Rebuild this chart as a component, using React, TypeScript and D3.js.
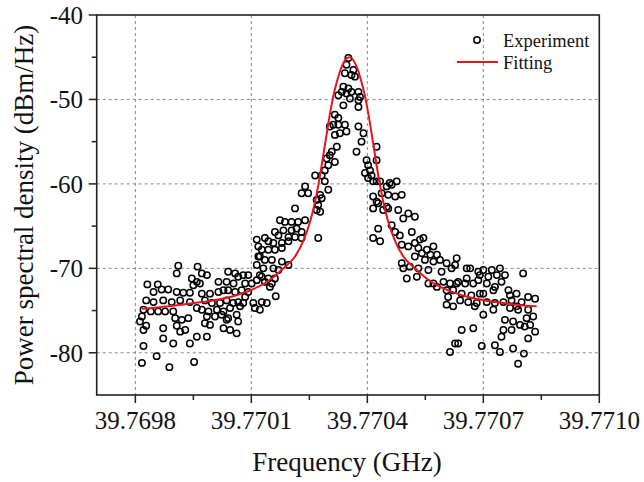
import React from "react";
import * as d3 from "d3";

const xTicks = [39.7698, 39.7701, 39.7704, 39.7707, 39.771];
const xMinorTicks = [39.76995, 39.77025, 39.77055, 39.77085];
const yTicks = [-80, -70, -60, -50, -40];
const yMinorTicks = [-75, -65, -55, -45];
const legendLabels = ["Experiment", "Fitting"];

// Experiment: [frequency (GHz), PSD (dBm/Hz)]
const experiment: [number, number][] = [
  [39.769911,-69.7],[39.769907,-70.6],[39.769831,-71.9],[39.769858,-71.9],[39.769847,-72.8],[39.769868,-72.5],[39.769885,-72.5],[39.769907,-72.8],[39.769924,-72.9],[39.769946,-71.2],[39.76995,-72.0],[39.769941,-72.9],[39.769828,-73.8],[39.769847,-74.0],[39.769872,-73.8],[39.769894,-74.0],[39.769916,-73.8],[39.769941,-74.0],[39.769959,-74.7],[39.769821,-74.9],[39.76984,-75.1],[39.769859,-75.1],[39.769877,-75.1],[39.769898,-75.1],[39.769817,-75.7],[39.769812,-76.3],[39.769828,-76.8],[39.769903,-75.9],[39.76992,-76.1],[39.769937,-75.9],[39.769872,-77.1],[39.769907,-76.8],[39.769916,-77.5],[39.769929,-77.3],[39.769821,-77.3],[39.769959,-78.1],[39.769872,-78.3],[39.769898,-78.9],[39.769941,-78.9],[39.769821,-79.2],[39.769855,-80.4],[39.769817,-81.2],[39.769888,-81.7],[39.769952,-81.1],
  [39.769961,-69.8],[39.769972,-70.6],[39.769985,-70.8],[39.769959,-71.6],[39.77004,-70.4],[39.770058,-70.6],[39.770066,-71.0],[39.770079,-70.8],[39.770092,-70.8],[39.770114,-69.6],[39.770118,-68.6],[39.769967,-71.8],[39.770015,-71.6],[39.770036,-71.6],[39.770054,-71.8],[39.770084,-71.8],[39.770101,-71.8],[39.770114,-71.4],[39.770127,-71.0],[39.769972,-73.0],[39.769993,-73.0],[39.770015,-72.8],[39.770028,-72.6],[39.77004,-72.6],[39.770058,-72.8],[39.770075,-72.6],[39.770092,-72.8],[39.770084,-73.4],[39.76998,-73.8],[39.769998,-74.1],[39.770019,-74.1],[39.770036,-73.8],[39.770053,-74.1],[39.770066,-74.0],[39.770079,-74.1],[39.770105,-74.1],[39.770127,-74.0],[39.769972,-74.9],[39.769989,-75.1],[39.770011,-74.9],[39.770028,-75.1],[39.770045,-74.7],[39.770071,-74.5],[39.770109,-74.7],[39.770122,-74.9],[39.769985,-75.7],[39.770006,-75.7],[39.770023,-75.5],[39.77004,-75.9],[39.770062,-75.5],[39.76998,-76.5],[39.769993,-76.7],[39.770036,-76.1],[39.770066,-76.3],[39.770028,-77.1],[39.770045,-77.3],[39.770062,-77.7],[39.769985,-78.1],
  [39.770265,-59.0],[39.770239,-60.3],[39.77023,-61.1],[39.770247,-61.1],[39.770213,-62.9],[39.770269,-61.9],[39.770278,-61.3],[39.770269,-63.1],[39.770174,-64.3],[39.770187,-64.5],[39.770204,-64.5],[39.770221,-64.5],[39.770239,-64.3],[39.770183,-65.5],[39.770204,-65.5],[39.770217,-65.3],[39.77023,-65.7],[39.770161,-65.7],[39.77017,-66.1],[39.770196,-66.3],[39.770213,-66.3],[39.77023,-66.4],[39.770135,-66.4],[39.770144,-66.8],[39.770157,-67.0],[39.770179,-67.0],[39.770196,-66.8],[39.770273,-66.4],[39.770114,-66.6],[39.770118,-67.4],[39.770127,-67.8],[39.770144,-67.8],[39.770161,-67.8],[39.770179,-67.6],[39.770122,-68.6],[39.770135,-69.0],[39.770153,-69.0],[39.770179,-69.2],[39.770196,-69.6],[39.770131,-70.0],[39.770157,-70.0],[39.77017,-70.2],[39.770122,-70.8],[39.770144,-71.2],[39.770161,-71.2],[39.770135,-71.6],[39.770153,-71.8],[39.770148,-72.2],[39.770163,-73.3],[39.77014,-74.1],
  [39.770351,-45.1],[39.770346,-45.9],[39.770364,-46.5],[39.770368,-47.3],[39.770342,-46.9],[39.770359,-47.1],[39.770338,-48.5],[39.770351,-48.7],[39.770334,-49.1],[39.770325,-49.5],[39.770359,-49.1],[39.770377,-49.1],[39.770381,-49.7],[39.770346,-49.3],[39.770338,-50.7],[39.770355,-49.9],[39.770377,-50.1],[39.770377,-50.9],[39.770316,-51.8],[39.770325,-52.2],[39.770312,-53.0],[39.770325,-53.0],[39.770342,-53.0],[39.770303,-53.2],[39.770346,-53.8],[39.770329,-54.0],[39.770316,-54.2],[39.770377,-53.2],[39.77039,-54.0],[39.770385,-55.0],[39.770372,-56.2],[39.770321,-55.6],[39.770308,-56.2],[39.770303,-56.6],[39.770295,-57.0],[39.770316,-57.4],[39.770299,-57.8],[39.77029,-58.4],[39.770282,-59.0],[39.77029,-59.7],[39.770299,-60.7],[39.770282,-61.7],[39.770273,-62.5],[39.770278,-63.3],[39.770398,-57.2],[39.770402,-57.8],[39.770407,-58.4],[39.770411,-59.0],[39.770415,-59.7],[39.770424,-59.7],[39.770402,-59.3],[39.770424,-62.1],[39.770415,-62.9],[39.770428,-65.3],[39.770415,-66.4],[39.770424,-55.6],[39.770394,-58.7],[39.770415,-61.5],[39.77045,-60.3],[39.770463,-60.1],[39.77045,-62.7],[39.770536,-66.6],
  [39.770424,-57.2],[39.770433,-59.7],[39.770458,-59.9],[39.770476,-59.7],[39.770437,-61.1],[39.770454,-61.3],[39.770472,-61.5],[39.770489,-61.3],[39.770428,-62.3],[39.770441,-63.1],[39.770454,-62.9],[39.77048,-63.1],[39.770506,-63.5],[39.770523,-63.9],[39.770493,-64.1],[39.770463,-64.9],[39.770472,-65.7],[39.770515,-65.7],[39.770484,-66.1],[39.770433,-66.8],[39.770545,-66.4],[39.770489,-67.2],[39.770506,-67.4],[39.770523,-67.0],[39.770532,-67.6],[39.770554,-67.8],[39.770571,-67.4],[39.770541,-68.2],[39.770563,-68.4],[39.77058,-68.4],[39.770523,-68.6],[39.770549,-69.0],[39.770571,-69.2],[39.770588,-69.0],[39.770605,-69.4],[39.770489,-69.4],[39.77051,-69.8],[39.770493,-70.0],[39.770532,-70.0],[39.770558,-70.2],[39.770592,-70.4],[39.770618,-70.0],[39.770502,-71.2],[39.770528,-71.0],[39.770558,-71.8],[39.770571,-71.8],[39.77058,-72.2],[39.770597,-71.6],[39.770614,-71.8],[39.770605,-72.6],[39.770609,-73.4],[39.770605,-74.3],[39.770622,-74.5],[39.770614,-79.9],[39.770627,-78.9],
  [39.770631,-68.8],[39.770657,-70.0],[39.770666,-70.0],[39.770687,-70.4],[39.7707,-70.2],[39.770722,-70.2],[39.770743,-70.0],[39.770756,-70.8],[39.770803,-70.6],[39.770691,-70.8],[39.770713,-71.0],[39.770735,-70.8],[39.770657,-71.2],[39.770635,-71.6],[39.770674,-71.8],[39.770709,-71.8],[39.77073,-72.2],[39.770747,-71.6],[39.770765,-72.6],[39.770786,-73.0],[39.770816,-73.4],[39.770834,-73.6],[39.770799,-74.0],[39.770773,-73.8],[39.770752,-74.0],[39.77073,-74.1],[39.770709,-74.0],[39.770683,-74.1],[39.770661,-74.0],[39.77064,-73.8],[39.770691,-73.0],[39.770669,-73.2],[39.7707,-75.5],[39.770726,-74.9],[39.770769,-74.7],[39.77079,-74.9],[39.770816,-74.9],[39.770829,-75.7],[39.770812,-75.9],[39.770756,-76.1],[39.770777,-76.3],[39.770795,-76.7],[39.770821,-76.7],[39.770773,-77.3],[39.770807,-76.9],[39.770834,-77.5],[39.770747,-78.1],[39.770816,-78.3],[39.770644,-77.3],[39.770674,-77.1],[39.770635,-78.9],[39.770696,-79.2],[39.77073,-79.1],[39.770743,-79.9],[39.770777,-79.5],[39.770805,-80.1],[39.77079,-81.3],
  [39.770627,-69.6],[39.770687,-71.4],[39.770631,-71.8],[39.770653,-71.8],[39.770622,-72.6],[39.770644,-73.0],[39.7707,-73.0],[39.770726,-72.6],[39.770769,-73.2],[39.770678,-74.5],[39.770786,-74.5],[39.770752,-77.3],
];

// Fitting curve: [frequency (GHz), PSD (dBm/Hz)]
const fitting: [number, number][] = [
  [39.769817,-74.8],[39.769903,-74.4],[39.769973,-74.0],[39.770053,-73.3],[39.770103,-72.5],[39.770153,-71.2],[39.770183,-70.0],[39.770213,-68.6],[39.770233,-66.9],[39.770253,-64.3],[39.770263,-62.5],[39.770273,-60.2],[39.770283,-57.5],[39.770293,-54.6],[39.770303,-51.8],[39.770313,-49.4],[39.770323,-47.6],[39.770333,-46.2],[39.770343,-45.3],[39.770353,-45.0],[39.770363,-45.3],[39.770373,-46.2],[39.770383,-47.6],[39.770393,-49.4],[39.770403,-51.8],[39.770413,-54.6],[39.770423,-57.5],[39.770433,-60.2],[39.770443,-62.5],[39.770453,-64.3],[39.770473,-66.9],[39.770493,-68.6],[39.770523,-70.0],[39.770553,-71.2],[39.770603,-72.5],[39.770653,-73.3],[39.770733,-74.0],[39.770803,-74.4],[39.770838,-74.5],
];

const FONT = "'Liberation Serif', 'Times New Roman', serif";

export default function App() {
  const left = 96.7, right = 599.3, top = 15, bottom = 395;
  const x = d3.scaleLinear().domain([39.7697, 39.771]).range([left, right]);
  const y = d3.scaleLinear().domain([-85, -40]).range([bottom, top]);
  const line = d3
    .line<[number, number]>()
    .x((d) => x(d[0]))
    .y((d) => y(d[1]))
    .curve(d3.curveMonotoneX);
  const fmt = d3.format(".4f");

  return (
    <svg
      width={644}
      height={482}
      style={{ position: "absolute", left: 0, top: 0, background: "#fff" }}
      fontFamily={FONT}
    >
      <rect x={0} y={0} width={644} height={482} fill="#fff" />
      {/* grid */}
      {xTicks.slice(0, -1).map((t) => (
        <line key={"gx" + t} x1={x(t)} x2={x(t)} y1={top} y2={bottom} stroke="#888" strokeWidth={1} strokeDasharray="3,3" />
      ))}
      {yTicks.slice(0, -1).map((t) => (
        <line key={"gy" + t} x1={left} x2={right} y1={y(t)} y2={y(t)} stroke="#888" strokeWidth={1} strokeDasharray="3,3" />
      ))}
      {/* data */}
      {experiment.map((d, i) => (
        <circle key={i} cx={x(d[0])} cy={y(d[1])} r={3.2} fill="none" stroke="#000" strokeWidth={1.5} />
      ))}
      <path d={line(fitting) || ""} fill="none" stroke="#e8141b" strokeWidth={2} />
      {/* frame */}
      <rect x={left} y={top} width={right - left} height={bottom - top} fill="none" stroke="#222" strokeWidth={1.6} />
      {/* x ticks */}
      {xTicks.map((t) => (
        <g key={"xt" + t}>
          <line x1={x(t)} x2={x(t)} y1={bottom} y2={bottom + 8} stroke="#222" strokeWidth={1.5} />
          <text x={x(t)} y={429} textAnchor="middle" fontSize={25} fill="#111">
            {fmt(t)}
          </text>
        </g>
      ))}
      {xMinorTicks.map((t) => (
        <line key={"xm" + t} x1={x(t)} x2={x(t)} y1={bottom} y2={bottom + 5} stroke="#222" strokeWidth={1.5} />
      ))}
      {/* y ticks */}
      {yTicks.map((t) => (
        <g key={"yt" + t}>
          <line x1={left - 8} x2={left} y1={y(t)} y2={y(t)} stroke="#222" strokeWidth={1.5} />
          <text x={83} y={y(t)} dy="0.35em" textAnchor="end" fontSize={25} fill="#111">
            {t}
          </text>
        </g>
      ))}
      {yMinorTicks.map((t) => (
        <line key={"ym" + t} x1={left - 5} x2={left} y1={y(t)} y2={y(t)} stroke="#222" strokeWidth={1.5} />
      ))}
      {/* axis titles */}
      <text x={347} y={471} textAnchor="middle" fontSize={27} fill="#111">
        Frequency (GHz)
      </text>
      <text transform="translate(33,205) rotate(-90)" textAnchor="middle" fontSize={27} fill="#111">
        Power spectral density (dBm/Hz)
      </text>
      {/* legend */}
      <circle cx={477} cy={40} r={3.2} fill="none" stroke="#000" strokeWidth={1.5} />
      <text x={503} y={46.5} fontSize={18.5} fill="#111">{legendLabels[0]}</text>
      <line x1={457} x2={498} y1={62} y2={62} stroke="#e8141b" strokeWidth={2} />
      <text x={503} y={68.5} fontSize={18.5} fill="#111">{legendLabels[1]}</text>
    </svg>
  );
}
